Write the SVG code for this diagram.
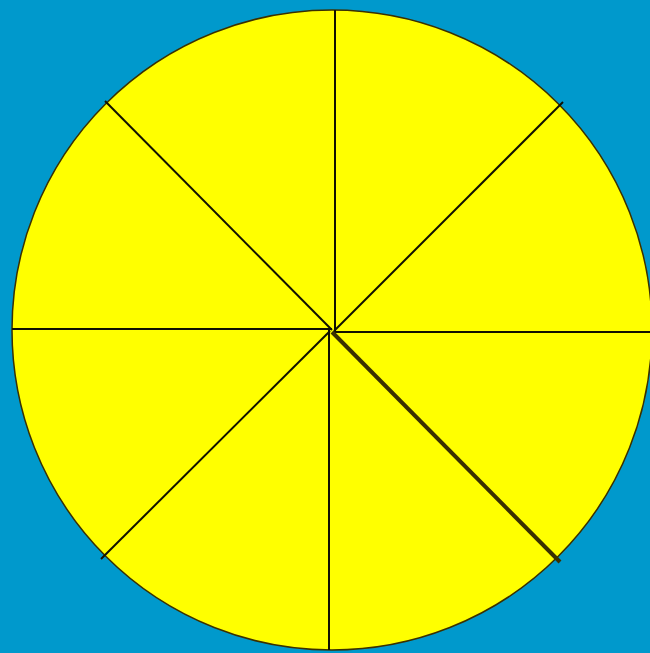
<svg xmlns="http://www.w3.org/2000/svg" width="650" height="653" viewBox="0 0 650 653">
  <style>
    .disc { fill: #ffff00; stroke: #3a3000; stroke-width: 1.5; }
    .cut { stroke: #111100; stroke-width: 2; fill: none; stroke-linecap: butt; }
    .cut-bold { stroke: #3a3000; stroke-width: 4; fill: none; }
  </style>
  <rect x="0" y="0" width="650" height="653" fill="#0099cc"/>
  <g id="pie">
    <circle class="disc" cx="332" cy="330" r="320"/>
  </g>
  <g id="cuts">
    <line class="cut" x1="335" y1="10" x2="335" y2="332"/>
    <line class="cut" x1="335" y1="332" x2="650" y2="332"/>
    <line class="cut" x1="12" y1="329" x2="332" y2="329"/>
    <line class="cut" x1="329" y1="330" x2="329" y2="650"/>
    <line class="cut" x1="105" y1="101" x2="332" y2="330"/>
    <line class="cut" x1="563" y1="102" x2="334" y2="331"/>
    <line class="cut" x1="101" y1="559" x2="330" y2="331"/>
    <line class="cut-bold" x1="332" y1="332" x2="560" y2="562"/>
  </g>
</svg>
